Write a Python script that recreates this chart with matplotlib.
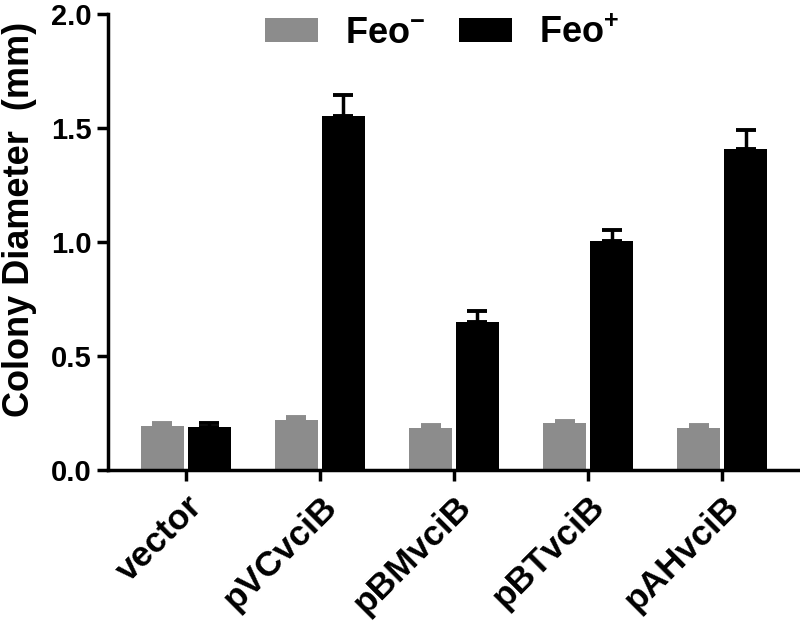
import matplotlib
matplotlib.use("Agg")
import matplotlib.pyplot as plt
import numpy as np

plt.rcParams['font.family'] = ['Liberation Sans', 'DejaVu Sans']
plt.rcParams['font.weight'] = 'bold'
plt.rcParams['mathtext.fontset'] = 'custom'
plt.rcParams['mathtext.rm'] = 'Liberation Sans:bold'
plt.rcParams['mathtext.bf'] = 'Liberation Sans:bold'
plt.rcParams['mathtext.default'] = 'bf'

### data
strains    = ['vector', 'pVCvciB', 'pBMvciB', 'pBTvciB', 'pAHvciB']
feo_minus  = [0.194, 0.219, 0.184, 0.205, 0.184]
feo_minus_err = [0.014, 0.012, 0.015, 0.011, 0.015]
feo_plus   = [0.190, 1.553, 0.650, 1.006, 1.408]
feo_plus_err  = [0.014, 0.090, 0.047, 0.047, 0.083]

gray  = '#8c8c8c'
black = '#000000'
width = 0.32
off   = 0.175

x = np.arange(len(strains))

fig = plt.figure(figsize=(8, 6.22), dpi=100)
ax = fig.add_axes([0.135, 0.2444, 0.865, 0.7331])

ax.bar(x - off, feo_minus, width, color=gray, label='Feo$^{-}$', zorder=2)
ax.bar(x + off, feo_plus, width, color=black, label='Feo$^{+}$', zorder=2)
ax.errorbar(x - off, feo_minus, yerr=[np.zeros(len(x)), feo_minus_err], fmt='none',
            ecolor=gray, elinewidth=2.5, capsize=7.5, capthick=2.8, zorder=1)
ax.errorbar(x + off, feo_plus, yerr=[np.zeros(len(x)), feo_plus_err], fmt='none',
            ecolor=black, elinewidth=2.5, capsize=7.5, capthick=2.8, zorder=1)

ax.set_xlim(-0.58, 4.58)
ax.set_ylim(0, 2.0)
ax.set_yticks([0.0, 0.5, 1.0, 1.5, 2.0])
ax.set_yticklabels(['0.0', '0.5', '1.0', '1.5', '2.0'], fontsize=21, fontweight='bold')
ax.set_xticks(x)
ax.set_xticklabels(strains, rotation=45, ha='right', rotation_mode='anchor',
                   fontsize=25.5, fontweight='bold')
ax.set_ylabel('Colony Diameter  (mm)', fontsize=26, fontweight='bold')
ax.yaxis.set_label_coords(-0.103, 0.55)

for s in ['top', 'right']:
    ax.spines[s].set_visible(False)
for s in ['left', 'bottom']:
    ax.spines[s].set_linewidth(2.5)
ax.tick_params(axis='both', width=2.5, direction='out')
ax.tick_params(axis='y', length=8, pad=4)
ax.tick_params(axis='x', length=8, pad=6)

ax.legend(loc='center', bbox_to_anchor=(0.483, 0.958), ncol=2, frameon=False,
          fontsize=26, handlelength=1.45, handleheight=0.66, columnspacing=0.95,
          handletextpad=0.75, borderpad=0, borderaxespad=0)

fig.savefig('out.png', dpi=100)
